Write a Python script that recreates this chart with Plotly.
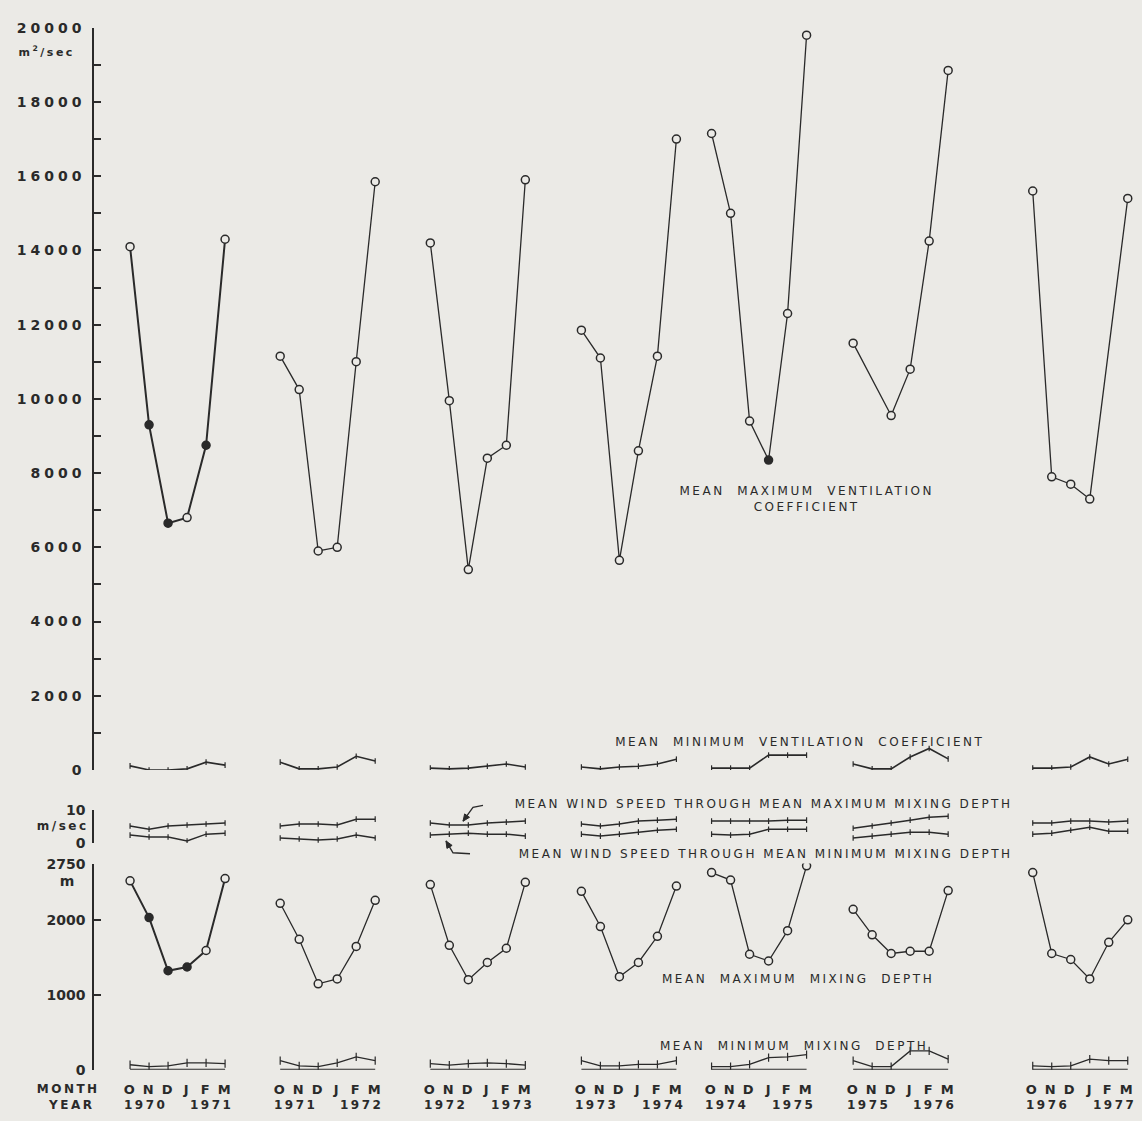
import math
import plotly.graph_objects as go

# ---------------- data ----------------
MONTHS = ["O", "N", "D", "J", "F", "M"]
YEAR_PAIRS = [("1970", "1971"), ("1971", "1972"), ("1972", "1973"), ("1973", "1974"),
              ("1974", "1975"), ("1975", "1976"), ("1976", "1977")]

# mean maximum ventilation coefficient, m2/sec
max_vent = [
    [14100, 9300, 6650, 6800, 8750, 14300],
    [11150, 10250, 5900, 6000, 11000, 15850],
    [14200, 9950, 5400, 8400, 8750, 15900],
    [11850, 11100, 5650, 8600, 11150, 17000],
    [17150, 15000, 9400, 8350, 12300, 19800],
    [11500, None, 9550, 10800, 14250, 18850],
    [15600, 7900, 7700, 7300, None, 15400],
]
# which points are drawn as filled dots
max_vent_filled = [
    [0, 1, 1, 0, 1, 0],
    [0, 0, 0, 0, 0, 0],
    [0, 0, 0, 0, 0, 0],
    [0, 0, 0, 0, 0, 0],
    [0, 0, 0, 1, 0, 0],
    [0, 0, 0, 0, 0, 0],
    [0, 0, 0, 0, 0, 0],
]
# mean minimum ventilation coefficient, m2/sec
min_vent = [
    [110, 0, 0, 30, 210, 130],
    [210, 30, 30, 80, 370, 240],
    [50, 30, 50, 100, 160, 80],
    [80, 30, 80, 100, 160, 290],
    [50, 50, 50, 400, 400, 400],
    [160, 30, 30, 350, 580, 300],
    [50, 50, 80, 350, 160, 290],
]
# mean wind speed through mean maximum / minimum mixing depth, m/sec
wind_max = [
    [5.2, 4.2, 5.2, 5.5, 5.8, 6.1],
    [5.2, 5.8, 5.8, 5.5, 7.3, 7.3],
    [6.1, 5.5, 5.5, 6.1, 6.4, 6.7],
    [5.8, 5.2, 5.8, 6.7, 7.0, 7.3],
    [6.7, 6.7, 6.7, 6.7, 7.0, 7.0],
    [4.5, 5.2, 6.1, 7.0, 7.9, 8.2],
    [6.1, 6.1, 6.7, 6.7, 6.4, 6.7],
]
wind_min = [
    [2.4, 1.8, 1.8, 0.6, 2.7, 3.0],
    [1.5, 1.2, 0.9, 1.2, 2.4, 1.5],
    [2.4, 2.7, 3.0, 2.7, 2.7, 2.1],
    [2.7, 2.1, 2.7, 3.3, 3.9, 4.2],
    [2.7, 2.4, 2.7, 4.2, 4.2, 4.2],
    [1.5, 2.1, 2.7, 3.3, 3.3, 2.7],
    [2.7, 3.0, 3.9, 4.8, 3.6, 3.6],
]
# mean maximum mixing depth, m
max_depth = [
    [2520, 2030, 1320, 1370, 1590, 2550],
    [2220, 1740, 1145, 1210, 1645, 2260],
    [2470, 1660, 1200, 1430, 1620, 2500],
    [2380, 1910, 1240, 1430, 1780, 2450],
    [2630, 2530, 1540, 1450, 1855, 2720],
    [2140, 1800, 1550, 1580, 1580, 2390],
    [2630, 1550, 1470, 1210, 1700, 2000],
]
max_depth_filled = [
    [0, 1, 1, 1, 0, 0],
    [0, 0, 0, 0, 0, 0],
    [0, 0, 0, 0, 0, 0],
    [0, 0, 0, 0, 0, 0],
    [0, 0, 0, 0, 0, 0],
    [0, 0, 0, 0, 0, 0],
    [0, 0, 0, 0, 0, 0],
]
# mean minimum mixing depth, m
min_depth = [
    [65, 40, 50, 90, 90, 80],
    [120, 50, 40, 90, 170, 120],
    [80, 60, 80, 90, 80, 60],
    [120, 50, 50, 70, 70, 120],
    [40, 40, 70, 160, 170, 200],
    [120, 40, 40, 250, 250, 140],
    [50, 40, 50, 140, 120, 120],
]

# ---------------- layout constants ----------------
W, H = 1142, 1121
BG = "#ebeae6"
INK = "#2a2a2a"
FONT = "DejaVu Sans"
SEASON_START = [1.95, 9.85, 17.75, 25.7, 32.55, 40.0, 49.45]   # x position of October, in month units
X_RANGE = [0, 55.2]
AX_X = 93 / W


def py(p):
    """pixel row -> paper y"""
    return 1 - p / H


def px(p):
    return p / W


fig = go.Figure()


def xs(s):
    return [SEASON_START[s] + m for m in range(6)]


def add_line(s, vals, yaxis, width=1.3, marker=None, connect=False):
    fig.add_trace(go.Scatter(
        x=xs(s), y=vals, xaxis="x", yaxis=yaxis, mode="lines+markers" if marker else "lines",
        line=dict(color=INK, width=width), marker=marker, connectgaps=connect,
        showlegend=False, hoverinfo="x+y"))


tick_marker = dict(symbol="line-ns-open", size=4, line=dict(color=INK, width=1.2))
for s in range(7):
    bold = 2.0 if s == 0 else 1.3
    # max ventilation coefficient
    fills = [INK if f else BG for f in max_vent_filled[s]]
    add_line(s, max_vent[s], "y", width=bold, connect=True,
             marker=dict(symbol="circle", size=8, color=fills, line=dict(color=INK, width=1.5)))
    # min ventilation coefficient
    add_line(s, min_vent[s], "y", width=1.6, marker=tick_marker)
    # wind speeds
    add_line(s, wind_max[s], "y2", width=1.5, marker=tick_marker)
    add_line(s, wind_min[s], "y2", width=1.5, marker=tick_marker)
    # max mixing depth
    fills = [INK if f else BG for f in max_depth_filled[s]]
    add_line(s, max_depth[s], "y3", width=bold,
             marker=dict(symbol="circle", size=8, color=fills, line=dict(color=INK, width=1.5)))
    # min mixing depth with its base line
    add_line(s, [0] * 6, "y3", width=1.6)
    add_line(s, min_depth[s], "y3", width=1.4,
             marker=dict(symbol="line-ns-open", size=6, line=dict(color=INK, width=1.2)))

tickfont = dict(family=FONT, size=14, color=INK, weight="bold")
common_y = dict(anchor="free", position=AX_X, showline=True, linecolor=INK, linewidth=1.6,
                ticks="inside", ticklen=7, tickwidth=1.6, tickcolor=INK, showgrid=False,
                zeroline=False, tickfont=tickfont, ticklabelstandoff=4)

vent_ticks = list(range(0, 20001, 2000))
fig.update_layout(
    width=W, height=H, margin=dict(l=0, r=0, t=0, b=0),
    paper_bgcolor=BG, plot_bgcolor=BG,
    xaxis=dict(domain=[AX_X, 1], range=X_RANGE, visible=False, anchor="y3"),
    yaxis=dict(domain=[py(773), py(20)], range=[0, 20000], tickvals=vent_ticks,
               ticktext=[str(v) for v in vent_ticks],
               minor=dict(ticks="inside", dtick=1000, tick0=0, ticklen=7, tickwidth=1.6, tickcolor=INK),
               **common_y),
    yaxis2=dict(domain=[py(847), py(814)], range=[0, 10], tickvals=[0, 10], ticktext=["0", "10"], **common_y),
    yaxis3=dict(domain=[py(1077), py(868)], range=[0, 2750], tickvals=[0, 1000, 2000, 2750],
                ticktext=["0", "1000", "2000", "2750"], **common_y),
)

ann = []


def label(text, x, y, size=13, xanchor="center", xref="paper", weight="normal"):
    ann.append(dict(text=text, x=x, y=y, xref=xref, yref="paper", showarrow=False,
                    xanchor=xanchor, yanchor="middle",
                    font=dict(family=FONT, size=size, color=INK, weight=weight)))


# units
label("m<sup>2</sup>/sec", px(47), py(44), size=11, weight="bold")
label("m/sec", px(62), py(830), size=12, weight="bold")
label("m", px(68), py(886), size=14, weight="bold")

# series captions
label("MEAN  MAXIMUM  VENTILATION<br>COEFFICIENT", px(806), py(498), size=12)
label("MEAN  MINIMUM  VENTILATION  COEFFICIENT", px(800), py(745), size=12)
label("MEAN WIND SPEED THROUGH MEAN MAXIMUM MIXING DEPTH", px(763), py(808), size=12)
label("MEAN WIND SPEED THROUGH MEAN MINIMUM MIXING DEPTH", px(765), py(858), size=12)
label("MEAN  MAXIMUM  MIXING  DEPTH", px(798), py(985), size=12)
label("MEAN  MINIMUM  MIXING  DEPTH", px(794), py(1053), size=12)

# month / year axis
label("MONTH", px(95), py(1097), size=12, xanchor="right", weight="bold")
label("YEAR", px(91), py(1113), size=12, xanchor="right", weight="bold")
for s in range(7):
    for m, name in enumerate(MONTHS):
        label(name, SEASON_START[s] + m, py(1097), size=13, xref="x", weight="bold")
    label(YEAR_PAIRS[s][0], SEASON_START[s] + 0.8, py(1113), size=12, xref="x", weight="bold")
    label(YEAR_PAIRS[s][1], SEASON_START[s] + 4.3, py(1113), size=12, xref="x", weight="bold")

fig.update_layout(annotations=ann)


# leader arrows of the two wind captions (drawn as shapes, pixel points -> paper)
def arrow(points):
    pts = [(px(a), py(b)) for a, b in points]
    path = "M " + " L ".join(f"{x:.5f} {y:.5f}" for x, y in pts)
    fig.add_shape(type="path", path=path, xref="paper", yref="paper",
                  line=dict(color=INK, width=1.3))
    (x1, y1), (x2, y2) = points[-2], points[-1]
    d = math.hypot(x2 - x1, y2 - y1)
    ux, uy = (x2 - x1) / d, (y2 - y1) / d
    nx, ny = -uy, ux
    tri = [(x2, y2), (x2 - 7 * ux + 3 * nx, y2 - 7 * uy + 3 * ny), (x2 - 7 * ux - 3 * nx, y2 - 7 * uy - 3 * ny)]
    tpath = "M " + " L ".join(f"{px(a):.5f} {py(b):.5f}" for a, b in tri) + " Z"
    fig.add_shape(type="path", path=tpath, xref="paper", yref="paper",
                  line=dict(color=INK, width=1), fillcolor=INK)


arrow([(483, 809), (473, 811), (463, 825)])
arrow([(470, 858), (453, 857), (446, 845)])

post = """
document.body.style.margin = '0';
document.documentElement.style.background = '""" + BG + """';
var gd = document.getElementById('{plot_id}');
function spacing(){
  gd.querySelectorAll('.ytick text').forEach(function(t){ t.style.letterSpacing = '4px'; });
  gd.querySelectorAll('.annotation-text').forEach(function(t){ t.style.letterSpacing = '2.5px'; });
}
spacing();
gd.on('plotly_afterplot', spacing);
"""
fig.write_html("out.html", post_script=post, config={"displayModeBar": False})
